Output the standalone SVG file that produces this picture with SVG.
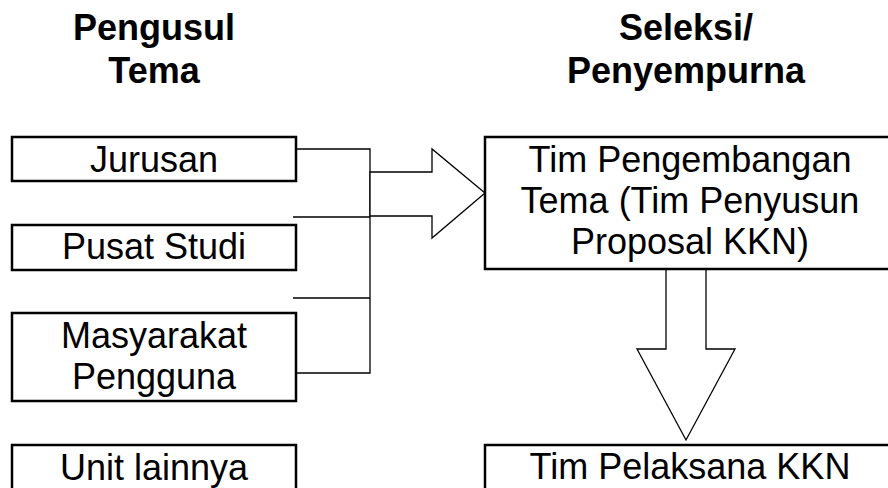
<svg xmlns="http://www.w3.org/2000/svg" width="888" height="488" viewBox="0 0 888 488">
<style>
.box{fill:#fff;stroke:#000;stroke-width:2.5}
.t{font-family:"Liberation Sans",Arial,sans-serif;font-size:36px;fill:#000;text-anchor:middle}
.h{font-family:"Liberation Sans",Arial,sans-serif;font-size:36px;font-weight:bold;fill:#000;text-anchor:middle}
.ln{fill:none;stroke:#000;stroke-width:1.3}
.arr{fill:#fff;stroke:#000;stroke-width:1.3;stroke-linejoin:miter}
</style>
<rect width="888" height="488" fill="#fff"/>
<g id="title-left">
<text class="h" x="154" y="40">Pengusul</text>
<text class="h" x="154" y="83">Tema</text>
</g>
<g id="title-right">
<text class="h" x="686" y="40">Seleksi/</text>
<text class="h" x="686" y="83">Penyempurna</text>
</g>
<g id="connectors">
<path class="ln" d="M293 149H370V373H293M293 217H370M293 298H370"/>
<path class="arr" d="M370 172H432V149L485 193L432 238V216H370Z"/>
<path class="arr" d="M666 269V349H637L686 440L735 349H706V269Z"/>
</g>
<g id="jurusan">
<rect class="box" x="12" y="137" width="284" height="44"/>
<text class="t" x="154" y="172">Jurusan</text>
</g>
<g id="pusat-studi">
<rect class="box" x="12" y="225" width="284" height="45"/>
<text class="t" x="154" y="259">Pusat Studi</text>
</g>
<g id="masyarakat">
<rect class="box" x="12" y="313" width="284" height="88"/>
<text class="t" x="154" y="348">Masyarakat</text>
<text class="t" x="154" y="389">Pengguna</text>
</g>
<g id="unit-lainnya">
<rect class="box" x="12" y="445" width="284" height="60"/>
<text class="t" x="154" y="480">Unit lainnya</text>
</g>
<g id="tim-pengembangan">
<rect class="box" x="485" y="137" width="410" height="132"/>
<text class="t" x="690" y="172">Tim Pengembangan</text>
<text class="t" x="690" y="213">Tema (Tim Penyusun</text>
<text class="t" x="690" y="254">Proposal KKN)</text>
</g>
<g id="tim-pelaksana">
<rect class="box" x="485" y="445" width="410" height="60"/>
<text class="t" x="690" y="479">Tim Pelaksana KKN</text>
</g>
</svg>
